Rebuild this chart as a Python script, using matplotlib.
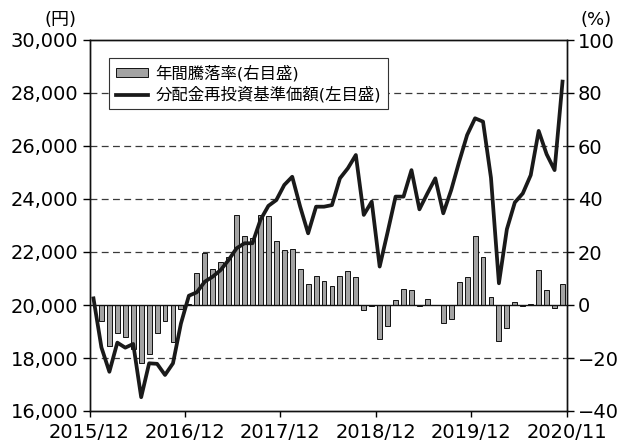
import numpy as np
import matplotlib
matplotlib.use("Agg")
import matplotlib.pyplot as plt
from matplotlib.patches import Patch
from matplotlib.lines import Line2D

plt.rcParams['font.family'] = ['DejaVu Sans', 'Noto Sans CJK JP']

# 分配金再投資基準価額 (円), 2015/12 - 2020/11 monthly
nav = [20250, 18400, 17480, 18580, 18390, 18530, 16520, 17800, 17780, 17360,
       17800, 19300, 20350, 20480, 20880, 21070, 21320, 21700, 22140, 22330,
       22330, 23210, 23740, 23960, 24530, 24840, 23710, 22705, 23710, 23710,
       23770, 24780, 25160, 25660, 23400, 23900, 21450, 22750, 24090, 24090,
       25090, 23610, 24210, 24780, 23460, 24340, 25410, 26415, 27045, 26920,
       24800, 20820, 22860, 23870, 24210, 24900, 26570, 25690, 25090, 28430]

# 年間騰落率 (%), 2016/01 - 2020/11
ret = [-6.1, -15.5, -10.5, -12.0, -16.5, -21.8, -18.4, -10.6, -6.2, -13.9,
       -1.5, 0.5, 12.0, 19.7, 13.7, 16.2, 18.0, 34.0, 26.0, 25.4,
       33.9, 33.6, 24.2, 20.8, 21.3, 13.4, 8.0, 11.0, 9.1, 7.2,
       10.8, 12.8, 10.4, -1.7, -0.4, -12.8, -8.1, 1.7, 6.1, 5.8,
       -0.2, 2.1, 0.1, -6.7, -5.2, 8.6, 10.5, 26.2, 18.0, 3.1,
       -13.4, -8.6, 1.3, -0.4, 0.4, 13.3, 5.7, -1.1, 8.0]

xlabels = ['2015/12', '2016/12', '2017/12', '2018/12', '2019/12', '2020/11']

x_nav = np.arange(len(nav)) + 0.5
x_ret = np.arange(1, len(ret) + 1) + 0.5

fig = plt.figure(figsize=(6.19, 4.46), dpi=100)
ax = fig.add_axes([89.5 / 619, 1 - 411 / 446, 477 / 619, 371 / 446])
ax2 = ax.twinx()

# bars on the right scale, kept behind the line
ax2.bar(x_ret, ret, width=0.62, color='#a3a3a3', edgecolor='#111111',
        linewidth=0.7, zorder=3)
ax2.axhline(0, color='#111111', lw=1.0, zorder=4)
ax2.set_ylim(-40, 100)
ax2.set_yticks(np.arange(-40, 101, 20))
ax2.set_axisbelow(True)
for v in [-20, 20, 40, 60, 80]:
    ax2.axhline(v, color='#3a3a3a', lw=0.9, ls=(0, (5.5, 3.5)), zorder=1)

ax.plot(x_nav, nav, color='#1a1a1a', lw=2.7, zorder=5)
ax.set_ylim(16000, 30000)
ax.set_yticks(np.arange(16000, 30001, 2000))
ax.set_yticklabels([f'{v:,}' for v in range(16000, 30001, 2000)])
ax.set_xlim(0, 60)
ax.set_xticks(np.arange(0, 61, 12))
ax.set_xticklabels(xlabels)

ax.set_zorder(ax2.get_zorder() + 1)
ax.patch.set_visible(False)

for a in (ax, ax2):
    for s in a.spines.values():
        s.set_linewidth(1.0)
        s.set_color('#111111')
ax.tick_params(axis='y', direction='out', length=5, width=1, labelsize=14, pad=3)
ax.tick_params(axis='x', direction='out', length=4.5, width=1, labelsize=14, pad=4)
ax2.tick_params(axis='y', direction='out', length=5, width=1, labelsize=14, pad=3)

fig.text(61 / 619, 1 - 20 / 446, '(円)', ha='center', va='center', fontsize=13)
fig.text(596 / 619, 1 - 20 / 446, '(%)', ha='center', va='center', fontsize=13)

handles = [Patch(facecolor='#a3a3a3', edgecolor='#111111', linewidth=0.7),
           Line2D([0], [0], color='#1a1a1a', lw=2.7)]
labels = ['年間騰落率(右目盛)', '分配金再投資基準価額(左目盛)']
leg = ax.legend(handles, labels, loc='upper left',
                bbox_to_anchor=((109 - 89.5) / 477, 1 - (58 - 40) / 371),
                borderaxespad=0, fontsize=11.8, frameon=True, fancybox=False,
                edgecolor='#333333', framealpha=1, handlelength=2.0,
                handleheight=0.45, handletextpad=0.45, labelspacing=0.3,
                borderpad=0.4)
leg.get_frame().set_linewidth(0.8)

fig.savefig('out.png', dpi=100)
